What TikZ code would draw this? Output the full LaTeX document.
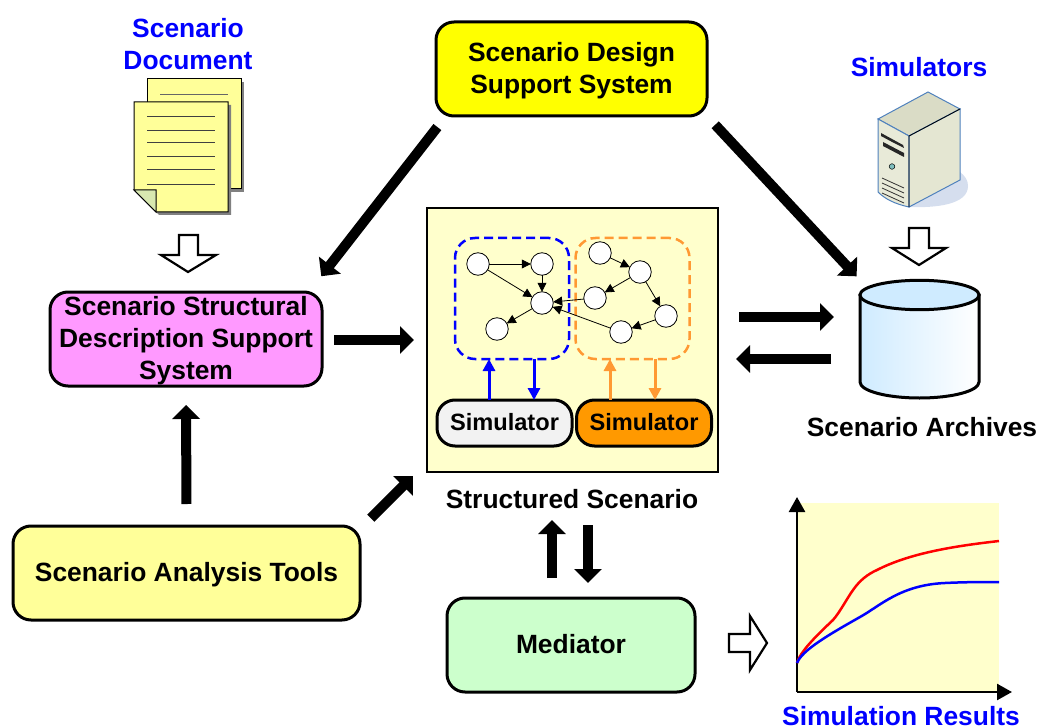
\documentclass[tikz,border=0pt]{standalone}
\usepackage{fontspec}
\setmainfont{Liberation Sans}
\usetikzlibrary{arrows.meta}
\definecolor{pureyellow}{HTML}{FFFF00}
\definecolor{palepink}{HTML}{FF99FF}
\definecolor{palegreen}{HTML}{CCFFCC}
\definecolor{paleyellow}{HTML}{FFFFCC}
\definecolor{noteyellow}{HTML}{FFFF99}
\definecolor{foldgreen}{HTML}{D8E8B0}
\definecolor{simgrey}{HTML}{F2F2F2}
\definecolor{simorange}{HTML}{FF9900}
\definecolor{dashorange}{HTML}{FF9933}
\definecolor{disklight}{HTML}{CFEBFF}
\definecolor{casegreen}{HTML}{E8EAD8}
\definecolor{casetop}{HTML}{DADCC6}
\definecolor{caseside}{HTML}{E4E6D2}
\definecolor{caseblue}{HTML}{4F81BD}
\definecolor{caseshadow}{HTML}{D5DEEE}
\newcommand{\topgap}{\rule{0pt}{22pt}}
\begin{document}
\begin{tikzpicture}[x=1pt,y=-1pt,
        every node/.style={outer sep=0pt,inner sep=0pt,align=center,font=\fontsize{26.4}{32}\selectfont\bfseries},
        sysbox/.style={draw,line width=3pt,rounded corners=18pt,minimum height=94pt},
        simbox/.style={draw,line width=3pt,rounded corners=18pt,minimum width=135pt,minimum height=46pt,text depth=2pt,font=\fontsize{23.6}{28}\selectfont\bfseries},
        groupbox/.style={dashed,dash pattern=on 9pt off 5pt,line width=2.5pt,rounded corners=20pt,minimum width=114pt,minimum height=121pt},
        state/.style={circle,draw,fill=white,line width=0.8pt,minimum size=22.5pt},
        link/.style={-{Triangle[length=9pt,width=9pt]},line width=0.8pt},
        simlink/.style={-{Triangle[length=12pt,width=12pt]},line width=3pt},
        bigarrow/.style={-{Triangle[length=14pt,width=27pt]},line width=10pt},
        hollow/.style={draw,line width=2.2pt,fill=white,line join=miter},
        title/.style={text=blue}]
    \useasboundingbox (0,0) rectangle (1038,727);

    % main boxes
    \node[sysbox,fill=pureyellow,minimum width=271pt] (design) at (571.5,69) {\topgap Scenario Design\\Support System};
    \node[sysbox,fill=palepink,minimum width=272pt] (struct) at (186,339) {\topgap Scenario Structural\\Description Support\\System};
    \node[sysbox,fill=noteyellow,minimum width=347pt] (analysis) at (186.5,573) {\topgap Scenario Analysis Tools};
    \node[sysbox,fill=palegreen,minimum width=248pt,text depth=2pt] (mediator) at (571,645) {Mediator};
    \node[draw,line width=2.5pt,fill=paleyellow,minimum width=291pt,minimum height=264pt] (central) at (572.5,340) {};
    \node (structcap) at (572,499) {Structured Scenario};

    % groups inside the structured scenario
    \node[groupbox,draw=blue] (bluegroup) at (512,298.5) {};
    \node[groupbox,draw=dashorange] (orangegroup) at (632.5,298.5) {};
    \node[simbox,fill=simgrey] (simgray) at (504.5,423) {Simulator};
    \node[simbox,fill=simorange] (simorange) at (644,423) {Simulator};

    \node[state] (g1) at (478,264) {};
    \node[state] (g2) at (542,264) {};
    \node[state] (g3) at (542,303) {};
    \node[state] (g4) at (497,329) {};
    \node[state] (o1) at (600,253) {};
    \node[state] (o2) at (640,272) {};
    \node[state] (o3) at (595,298) {};
    \node[state] (o4) at (666,316) {};
    \node[state] (o5) at (621,332) {};
    \draw[link] (g1)--(g2);
    \draw[link] (g2)--(g3);
    \draw[link] (g1)--(g3);
    \draw[link] (g3)--(g4);
    \draw[link] (o1)--(o2);
    \draw[link] (o2)--(o3);
    \draw[link] (o2)--(o4);
    \draw[link] (o4)--(o5);
    \draw[link] (o3)--(g3);
    \draw[link] (o5)--(g3);

    \draw[simlink,blue] ([xshift=-15.5pt]simgray.north)--([xshift=-23pt]bluegroup.south);
    \draw[simlink,blue] ([xshift=22pt]bluegroup.south)--([xshift=29.5pt]simgray.north);
    \draw[simlink,dashorange] ([xshift=-34pt]simorange.north)--([xshift=-22.5pt]orangegroup.south);
    \draw[simlink,dashorange] ([xshift=22.5pt]orangegroup.south)--([xshift=11pt]simorange.north);

    % document
    \node[title] (doccap) at (188,44) {Scenario\\Document};
    \fill[black!50] (150,82)--(244,82)--(244,192)--(150,192)--cycle;
    \draw[line width=1pt,fill=noteyellow] (147,79)--(241,79)--(241,189)--(147,189)--cycle;
    \draw[line width=1pt,black!60] (160,95)--(228,95);
    \fill[black!50] (137,105)--(231,105)--(231,215)--(159,215)--(137,193)--cycle;
    \draw[line width=1pt,fill=noteyellow] (134,102)--(228,102)--(228,212)--(156,212)--(134,190)--cycle;
    \draw[line width=1pt,fill=foldgreen] (134,190)--(156,190)--(156,212)--cycle;
    \foreach \y in {117,131,143,157,170,185}
        \draw[line width=1pt,black!75] (147,\y)--(215,\y);
    \draw[hollow] (179,235)--(198,235)--(198,255)--(216,255)--(188,272)--(161,255)--(179,255)--cycle;

    % server
    \node[title] (simcap) at (919,67) {Simulators};
    \fill[caseshadow] (909,207) .. controls (935,208) and (968,205) .. (968,186) .. controls (968,180) and (965,176) .. (960,172)--cycle;
    \draw[line width=1pt,caseblue,fill=casetop] (928,92)--(960,109)--(909,136)--(878,119)--cycle;
    \draw[line width=1pt,caseblue,fill=casegreen] (878,119)--(909,136)--(909,207) .. controls (895,204) and (885,199) .. (878,192)--cycle;
    \draw[line width=1pt,caseblue,fill=caseside] (909,136)--(960,109)--(960,180)--(909,207)--cycle;
    \draw[line width=0.8pt] (960,109)--(909,136)--(909,207);
    \fill[black!85] (881,133)--(903,145)--(904,148)--(894,143)--(881,136)--cycle;
    \fill[black!85] (883,142)--(904,153)--(904,157)--(883,146)--cycle;
    \draw[fill=teal!50,line width=0.5pt] (892,166.5) circle (2.8pt);
    \foreach \y in {178,183,188,193}
        \draw[line width=0.8pt,black!80] (882,\y)--(904,\y+10);
    \draw[hollow] (909,228)--(929,228)--(929,248)--(946,248)--(919,265)--(892,248)--(909,248)--cycle;

    % archive
    \node[minimum width=119pt,minimum height=118pt] (archive) at (919.5,339) {};
    \draw[line width=3pt,left color=disklight,right color=white] (860,295)--(860,382) .. controls (860,391) and (887,398) .. (919.5,398) .. controls (952,398) and (979,391) .. (979,382)--(979,295)--cycle;
    \filldraw[line width=3pt,fill=disklight] (919.5,295) ellipse (59.5pt and 14.7pt);
    \node (archivecap) at (922,427) {Scenario Archives};

    % results
    \fill[paleyellow] (797,503) rectangle (999,692);
    \coordinate (origin) at (797,692);
    \coordinate (ytip) at (797,497);
    \coordinate (xtip) at (1012,692);
    \draw[-{Triangle[length=15pt,width=16pt]},line width=2.5pt] (origin)--(ytip);
    \draw[-{Triangle[length=15pt,width=16pt]},line width=2.5pt] (origin)--(xtip);
    \draw[red,line width=2.5pt] (797,663) .. controls (800,652) and (815,637) .. (833,620) .. controls (840,612) and (846,600) .. (853,590) .. controls (860,580) and (868,574) .. (877,570) .. controls (910,553) and (955,546) .. (999,541);
    \draw[blue,line width=2.5pt] (797,663) .. controls (802,650) and (830,634) .. (860,617) .. controls (880,606) and (900,585) .. (945,583) .. controls (965,582) and (985,582) .. (999,582);
    \node[title] (resultcap) at (901,716) {Simulation Results};
    \draw[hollow] (729,634)--(750,634)--(750,616)--(767,643)--(750,670)--(750,652)--(729,652)--cycle;

    % big arrows
    \draw[bigarrow,shorten <=14pt,shorten >=20pt] ([xshift=10pt]design.south west)--([xshift=-13pt]struct.north east);
    \draw[bigarrow,shorten <=12pt,shorten >=5pt] (design.south east)--(archive.north west);
    \draw[bigarrow,shorten <=12pt,shorten >=13pt] (struct.east |- central.west)--(central.west);
    \draw[bigarrow,shorten <=22pt,shorten >=19pt] (analysis.north)--(struct.south);
    \draw[bigarrow,shorten <=11pt,shorten >=5.7pt] ([xshift=3pt]analysis.north east)--([xshift=-10pt]central.south west);
    \draw[bigarrow,shorten <=20pt,shorten >=48pt] ([xshift=-19pt]mediator.north)--([xshift=-20.5pt]central.south);
    \draw[bigarrow,shorten <=53pt,shorten >=15pt] ([xshift=15.5pt]central.south)--([xshift=17pt]mediator.north);
    \draw[bigarrow,shorten <=21pt,shorten >=26pt] ([yshift=23pt]central.east)--([yshift=23pt]central.east -| archive.west);
    \draw[bigarrow,shorten <=29pt,shorten >=18pt] ([yshift=-19pt]central.east -| archive.west)--([yshift=-19pt]central.east);
\end{tikzpicture}
\end{document}
